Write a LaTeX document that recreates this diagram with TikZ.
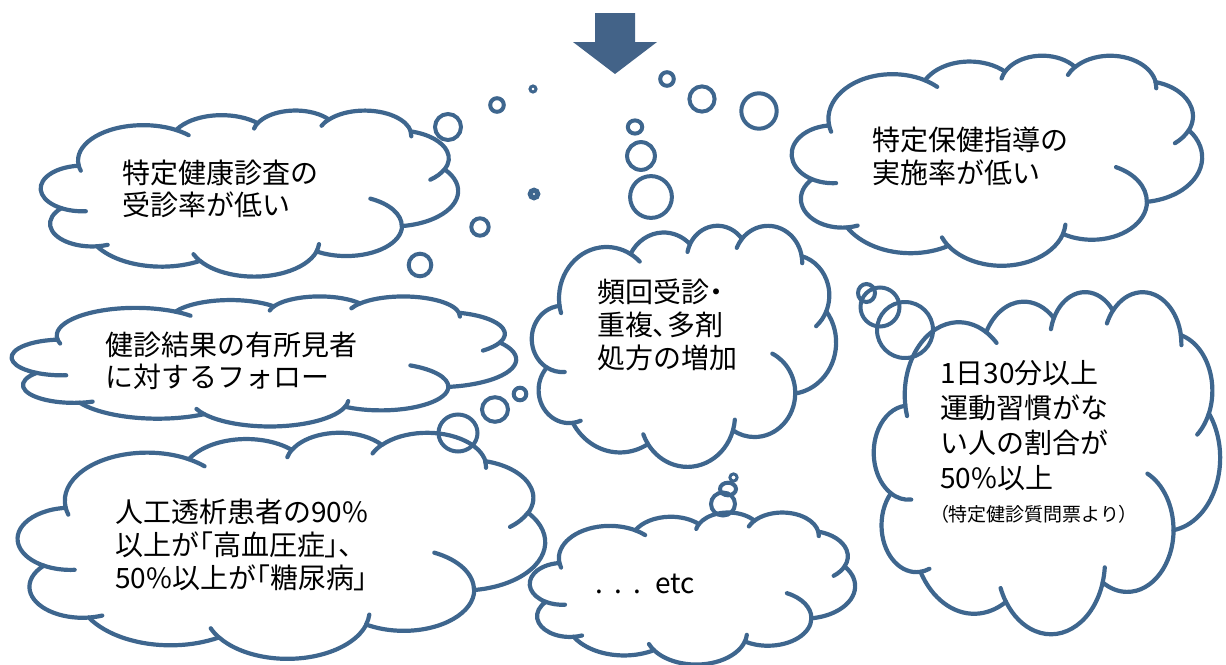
\documentclass[tikz,border=0pt]{standalone}
\usepackage{fontspec}
\newfontfamily\jp{Noto Sans CJK JP}
\newfontfamily\jpp[RawFeature=+palt]{Noto Sans CJK JP}
\definecolor{cloudblue}{RGB}{62,102,142}
\definecolor{arrowblue}{RGB}{67,99,136}
% OOXML-style arcTo (visual angles), forward and backward
\newcommand\oarc[4]{arc[x radius=#1, y radius=#2, start angle={atan2((#1)*sin(#3),(#2)*cos(#3))}, delta angle={Mod(atan2((#1)*sin((#3)+(#4)),(#2)*cos((#3)+(#4)))-atan2((#1)*sin(#3),(#2)*cos(#3)),360)}]}
\newcommand\oarcb[4]{arc[x radius=#1, y radius=#2, start angle={atan2((#1)*sin(#3),(#2)*cos(#3))}, delta angle={0-Mod(atan2((#1)*sin(#3),(#2)*cos(#3))-atan2((#1)*sin((#3)+(#4)),(#2)*cos((#3)+(#4))),360)}]}
\newcommand\ocloud[4]{%
  \pgfmathsetmacro\cxs{(#3)/43.2}%
  \pgfmathsetmacro\cys{(#4)/43.2}%
  \begin{scope}[shift={(#1,#2)}, xscale=\cxs, yscale=\cys]
    \filldraw[cloudline, fill=white] (3.9,14.37) coordinate (j0)
      \oarc{6.753}{9.19}{-190.48748}{123.78053} coordinate (j1)
      \oarc{5.333}{7.267}{-144.10238}{89.94523} coordinate (j2)
      \oarc{4.365}{5.945}{-145.80792}{99.72302} coordinate (j3)
      \oarc{4.857}{6.595}{-130.98607}{117.24173} coordinate (j4)
      \oarc{5.333}{7.273}{-78.70888}{109.02692} coordinate (j5)
      \oarc{6.775}{9.22}{-46.26725}{130.269} coordinate (j6)
      \oarc{5.785}{7.867}{0.62502}{114.03333} coordinate (j7)
      \oarc{6.752}{9.215}{22.4516}{115.17255} coordinate (j8)
      \oarc{7.72}{10.543}{66.24263}{75.71102} coordinate (j9)
      \oarc{4.36}{5.918}{-274.94208}{146.73557} coordinate (j10)
      \oarc{4.345}{5.945}{-246.8285}{152.51885} -- cycle;
    \draw[cloudline] (j1) \oarc{6.753}{9.19}{-66.70695}{12.31935};
    \draw[cloudline] (j2) \oarcb{4.365}{5.945}{-145.80792}{-17.68635};
    \draw[cloudline] (j3) \oarcb{4.857}{6.595}{-130.98607}{-18.19537};
    \draw[cloudline] (j4) \oarc{4.857}{6.595}{-13.74434}{14.8589};
    \draw[cloudline] (j5) \oarc{5.333}{7.273}{30.31804}{27.7515};
    \draw[cloudline] (j6) \oarcb{5.785}{7.867}{0.62502}{-70.91737};
    \draw[cloudline] (j7) \oarcb{6.752}{9.215}{22.4516}{-15.99835};
    \draw[cloudline] (j8) \oarc{6.752}{9.215}{137.62415}{14.0811};
    \draw[cloudline] (j9) \oarcb{4.36}{5.918}{-274.94208}{-11.44747};
    \draw[cloudline] (j10) \oarcb{4.345}{5.945}{-246.8285}{-26.4295};
    \draw[cloudline] (j0) \oarcb{6.753}{9.19}{-190.48748}{-11.85817};
  \end{scope}}
\begin{document}
\begin{tikzpicture}[x=1pt,y=1pt,
  cloudline/.style={draw=cloudblue, line width=4.2pt, line join=round, line cap=round},
  bub/.style={draw=cloudblue, line width=4pt},
  bubs/.style={draw=cloudblue, line width=3pt},
  txt/.style={anchor=north west, inner sep=0pt, align=left, text=black},
  jpfont/.style={font=\jp\fontsize{28}{#1}\selectfont}]
\begin{scope}[yscale=-1]
\useasboundingbox (0,0) rectangle (1226,664);
% arrow
\fill[arrowblue] (595,13) -- (635,13) -- (635,42) -- (657,42) -- (615,74) -- (573,42) -- (595,42) -- cycle;
% clouds
\ocloud{41}{110}{417}{166}
\ocloud{12}{296}{504}{130}
\ocloud{18}{432}{527}{226}
\ocloud{532}{225}{304}{241}
\ocloud{874}{291}{346}{342}
\ocloud{792}{55}{410}{210}
\ocloud{530}{512}{325}{152}
% tail bubbles
\draw[bub] (448,127) circle[radius=13];
\draw[bub] (497,105) circle[radius=6.8];
\draw[bubs] (533,89) circle[radius=3];
\draw[bub] (420,265) circle[radius=11.3];
\draw[bub] (480,227) circle[radius=8.7];
\draw[cloudblue, line width=5pt] (534,194) circle[radius=3.8];
\draw[bub] (458,433) circle[x radius=19.5, y radius=18.5];
\draw[bub] (495,409.5) circle[x radius=13, y radius=12.3];
\draw[bub] (520,394) circle[radius=6.3];
\draw[bub] (635,127) circle[x radius=7.2, y radius=6.6];
\draw[bub] (641,156) circle[radius=13.9];
\draw[bub] (651,197) circle[radius=20.9];
\draw[bub] (667,79) circle[radius=6.8];
\draw[bub] (702,99) circle[radius=12.6];
\draw[bub] (759,111) circle[radius=17.7];
\draw[bub] (866.5,293) circle[x radius=8.5, y radius=9];
\draw[bub] (880,307) circle[radius=19.5];
\draw[bub] (905,330) circle[radius=28];
\draw[bub] (723,504) circle[x radius=12, y radius=11.5];
\draw[bub] (728,489) circle[x radius=8, y radius=6.3];
\draw[bubs] (733.5,477.5) circle[radius=3.6];
% texts
\node[txt, jpfont=32] (tA) at (122,160) {特定健康診査の\\受診率が低い};
\node[txt, jpfont=32] (tB) at (105,332) {健診結果の有所見者\\に対するフォロー};
\node[txt, jpfont=33] (tC) at (115,499) {人工透析患者の90\%\\以上が{\jpp 「}高血圧症{\jpp 」、}\\50\%以上が{\jpp 「}糖尿病{\jpp 」}};
\node[txt, jpfont=33] (tD) at (597,279) {頻回受診{\jpp ・}\\重複{\jpp 、}多剤\\処方の増加};
\node[txt, jpfont=35] (tE) at (940,360) {1日30分以上\\運動習慣がな\\い人の割合が\\50\%以上};
\node[anchor=base west, inner sep=0pt, font=\jp\fontsize{19}{22}\selectfont] (tEn) at (939,521) {{\jpp （}特定健診質問票より{\jpp ）}};
\node[txt, jpfont=33] (tF) at (872,127) {特定保健指導の\\実施率が低い};
\node[anchor=base west, inner sep=0pt, font=\jp\fontsize{28}{33}\selectfont] (tG) at (595,593) {.\hspace{11.5pt}.\hspace{11.5pt}.\hspace{13.5pt}etc};
\end{scope}
\end{tikzpicture}
\end{document}
